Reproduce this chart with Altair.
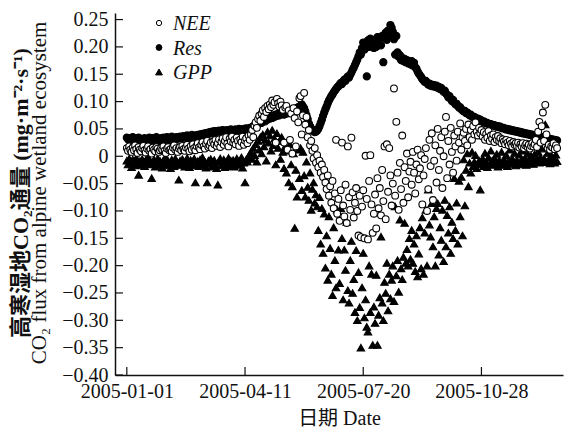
import altair as alt
import pandas as pd

# Daily CO2 flux over an alpine wetland, 2005 (mg·m⁻²·s⁻¹)
SERIES = ["NEE", "Res", "GPP"]

nee = [
    0.015, 0.010, 0.018, 0.012, 0.008, 0.016, 0.011, 0.020, 0.013, 0.006, 0.017, 0.012, 0.009, 0.015, 0.019,
    0.011, 0.007, 0.014, 0.018, 0.010, 0.013, 0.005, 0.016, 0.012, 0.009, 0.017, 0.014, 0.008, 0.011, 0.015,
    0.012, 0.018, 0.010, 0.006, 0.014, 0.017, 0.011, 0.013, 0.009, 0.016, 0.020, 0.012, 0.015, 0.008, 0.014,
    0.017, 0.011, 0.019, 0.013, 0.010, 0.016, 0.021, 0.014, 0.009, 0.018, 0.012, 0.022, 0.015, 0.011, 0.019,
    0.024, 0.016, 0.013, 0.021, 0.026, 0.018, 0.014, 0.023, 0.028, 0.017, 0.020, 0.025, 0.015, 0.027, 0.022,
    0.030, 0.019, 0.024, 0.031, 0.017, 0.026, 0.033, 0.021, 0.028, 0.035, 0.023, 0.018, 0.032, 0.027, 0.036,
    0.025, 0.030, 0.022, 0.034, 0.028, 0.019, 0.031, 0.026, 0.036, 0.021, 0.029, 0.033, 0.024, 0.038, 0.030,
    0.040, 0.048, 0.035, 0.056, 0.062, 0.052, 0.068, 0.074, 0.065, 0.078, 0.084, 0.072, 0.088, 0.081, 0.092,
    0.086, 0.095, 0.090, 0.102, 0.094, 0.099, 0.025, 0.105, 0.097, 0.091, 0.100, 0.093, 0.085, 0.025, 0.089,
    0.092, 0.012, 0.084, 0.030, 0.078, 0.005, 0.088, 0.070, 0.018, 0.082, 0.062, 0.106, 0.110, 0.040, 0.075,
    0.116, 0.058, 0.072, 0.035, 0.048, 0.020, 0.028, 0.010, -0.004, 0.015, -0.012, 0.002, -0.020, -0.008, -0.030,
    -0.015, -0.038, -0.025, -0.048, -0.060, -0.035, -0.072, -0.055, -0.085, -0.045, -0.095, -0.068, 0.030, -0.105, -0.078,
    -0.118, -0.062, 0.025, -0.090, -0.110, -0.052, -0.122, 0.018, -0.075, -0.098, 0.034, -0.066, -0.112, -0.085, -0.058,
    -0.100, -0.145, -0.072, -0.148, -0.092, -0.062, -0.150, 0.001, -0.078, -0.152, -0.045, 0.002, -0.088, -0.140, -0.105,
    -0.070, -0.132, -0.040, -0.095, -0.058, -0.108, -0.025, -0.082, 0.018, -0.115, 0.022, -0.065, 0.015, -0.035, -0.090,
    -0.050, 0.124, -0.072, 0.063, -0.030, -0.098, -0.012, -0.060, 0.038, -0.085, -0.020, -0.045, 0.005, -0.075, -0.028,
    -0.010, -0.052, 0.008, -0.030, -0.068, -0.015, 0.012, -0.042, -0.022, 0.002, -0.088, -0.035, -0.005, 0.015, -0.100,
    -0.060, 0.030, -0.018, 0.042, -0.080, -0.008, 0.020, -0.048, 0.050, -0.025, 0.010, 0.035, -0.058, 0.000, 0.045,
    0.072, -0.040, 0.028, -0.015, 0.052, 0.008, -0.030, 0.038, 0.018, -0.008, 0.045, 0.025, 0.060, 0.012, 0.035,
    0.043, 0.028, 0.050, 0.020, 0.058, 0.035, 0.048, 0.030, 0.055, 0.040, 0.062, 0.045, 0.038, 0.052, 0.042,
    0.048, 0.036, 0.044, 0.030, 0.041, 0.034, 0.046, 0.028, 0.038, 0.032, 0.040, 0.026, 0.035, 0.030, 0.037,
    0.028, 0.033, 0.024, 0.031, 0.027, 0.022, 0.030, 0.025, 0.020, 0.028, 0.023, 0.018, 0.026, 0.021, 0.024,
    0.019, 0.025, 0.016, 0.022, 0.018, 0.024, 0.015, 0.020, 0.023, 0.017, 0.021, 0.014, 0.019, 0.024, 0.018,
    0.022, 0.030, 0.017, 0.045, 0.063, 0.025, 0.055, 0.080, 0.028, 0.094, 0.040, 0.015, 0.021, 0.012, 0.018,
    0.016, 0.024, 0.013, 0.020, 0.015,
]

res = [
    0.034, 0.031, 0.033, 0.029, 0.032, 0.035, 0.030, 0.028, 0.033, 0.031, 0.034, 0.030, 0.032, 0.029, 0.031,
    0.033, 0.030, 0.028, 0.032, 0.034, 0.031, 0.029, 0.033, 0.030, 0.032, 0.035, 0.031, 0.028, 0.030, 0.033,
    0.032, 0.034, 0.030, 0.031, 0.035, 0.033, 0.029, 0.032, 0.036, 0.034, 0.031, 0.033, 0.035, 0.032, 0.034,
    0.036, 0.033, 0.035, 0.037, 0.034, 0.036, 0.038, 0.035, 0.033, 0.037, 0.039, 0.036, 0.034, 0.038, 0.037,
    0.039, 0.036, 0.040, 0.038, 0.041, 0.039, 0.042, 0.040, 0.043, 0.041, 0.044, 0.042, 0.045, 0.043, 0.046,
    0.044, 0.046, 0.045, 0.047, 0.045, 0.046, 0.048, 0.046, 0.047, 0.045, 0.048, 0.046, 0.047, 0.049, 0.047,
    0.048, 0.046, 0.049, 0.047, 0.048, 0.050, 0.048, 0.047, 0.049, 0.050, 0.048, 0.051, 0.049, 0.050, 0.052,
    0.050, 0.053, 0.055, 0.052, 0.057, 0.060, 0.058, 0.062, 0.065, 0.061, 0.066, 0.068, 0.064, 0.070, 0.067,
    0.071, 0.069, 0.073, 0.070, 0.075, 0.072, 0.076, 0.074, 0.078, 0.075, 0.079, 0.077, 0.080, 0.076, 0.081,
    0.078, 0.082, 0.079, 0.084, 0.080, 0.085, 0.083, 0.087, 0.084, 0.088, 0.090, 0.086, 0.092, 0.095, 0.091,
    0.088, 0.082, 0.075, 0.068, 0.060, 0.055, 0.051, 0.048, 0.046, 0.044, 0.045, 0.047, 0.050, 0.055, 0.061,
    0.067, 0.074, 0.080, 0.086, 0.091, 0.097, 0.102, 0.106, 0.110, 0.113, 0.117, 0.120, 0.123, 0.126, 0.128,
    0.131, 0.134, 0.132, 0.137, 0.140, 0.138, 0.143, 0.146, 0.144, 0.149, 0.153, 0.158, 0.162, 0.167, 0.172,
    0.177, 0.183, 0.190, 0.186, 0.198, 0.208, 0.195, 0.204, 0.146, 0.212, 0.200, 0.215, 0.205, 0.210, 0.198,
    0.213, 0.200, 0.218, 0.209, 0.216, 0.203, 0.220, 0.172, 0.217, 0.226, 0.213, 0.230, 0.222, 0.240, 0.235,
    0.228, 0.214, 0.186, 0.220, 0.190, 0.182, 0.185, 0.176, 0.180, 0.174, 0.178, 0.172, 0.176, 0.170, 0.173,
    0.168, 0.174, 0.166, 0.171, 0.163, 0.160, 0.155, 0.151, 0.148, 0.145, 0.141, 0.139, 0.136, 0.138, 0.134,
    0.131, 0.133, 0.129, 0.131, 0.128, 0.130, 0.127, 0.129, 0.125, 0.127, 0.123, 0.125, 0.121, 0.118, 0.120,
    0.115, 0.112, 0.108, 0.110, 0.105, 0.101, 0.103, 0.098, 0.095, 0.096, 0.092, 0.089, 0.090, 0.086, 0.084,
    0.082, 0.083, 0.079, 0.080, 0.077, 0.075, 0.076, 0.073, 0.071, 0.072, 0.070, 0.068, 0.069, 0.066, 0.067,
    0.065, 0.063, 0.064, 0.062, 0.060, 0.061, 0.059, 0.058, 0.059, 0.057, 0.056, 0.057, 0.055, 0.054, 0.055,
    0.053, 0.054, 0.052, 0.051, 0.052, 0.050, 0.049, 0.050, 0.048, 0.049, 0.047, 0.048, 0.046, 0.047, 0.045,
    0.046, 0.044, 0.045, 0.043, 0.044, 0.042, 0.043, 0.041, 0.042, 0.040, 0.041, 0.039, 0.040, 0.038, 0.039,
    0.037, 0.038, 0.036, 0.037, 0.035, 0.036, 0.034, 0.035, 0.033, 0.034, 0.032, 0.033, 0.031, 0.032, 0.030,
    0.031, 0.029, 0.030, 0.028, 0.029,
]

gpp = [
    -0.008, -0.015, -0.004, -0.012, -0.020, -0.006, -0.010, -0.017, -0.003, -0.013, -0.034, -0.009, -0.016, -0.005, -0.011,
    -0.018, -0.007, -0.012, -0.002, -0.015, -0.009, -0.040, -0.014, -0.006, -0.019, -0.010, -0.004, -0.016, -0.008, -0.013,
    -0.021, -0.007, -0.011, -0.003, -0.017, -0.009, -0.014, -0.022, -0.006, -0.012, -0.018, -0.004, -0.010, -0.015, -0.043,
    -0.008, -0.016, -0.005, -0.012, -0.019, -0.009, -0.003, -0.014, -0.020, -0.007, -0.011, -0.017, -0.004, -0.048, -0.013,
    -0.009, -0.018, -0.006, -0.013, -0.002, -0.016, -0.010, -0.021, -0.048, -0.008, -0.014, -0.005, -0.019, -0.011, -0.007,
    -0.015, -0.022, -0.052, -0.009, -0.004, -0.017, -0.012, -0.006, -0.020, -0.010, -0.015, -0.003, -0.018, -0.008, -0.013,
    -0.007, -0.019, -0.011, -0.004, -0.016, -0.009, -0.014, -0.002, -0.021, -0.012, -0.048, -0.006, -0.010, -0.001, 0.004,
    0.008, -0.005, 0.015, 0.002, 0.022, -0.010, 0.028, 0.012, 0.035, 0.005, 0.040, 0.018, 0.030, -0.008, 0.045,
    0.025, 0.038, 0.010, 0.048, 0.020, 0.032, -0.015, 0.042, 0.015, 0.028, -0.005, 0.035, 0.008, -0.022, 0.018,
    -0.030, 0.010, -0.048, 0.022, -0.015, -0.055, 0.005, -0.131, -0.025, -0.074, 0.012, -0.040, 0.015, -0.062, 0.008,
    -0.035, -0.074, -0.010, -0.056, -0.080, -0.030, -0.098, -0.060, -0.048, -0.085, -0.070, -0.092, -0.135, -0.075, -0.160,
    -0.095, -0.177, -0.105, -0.204, -0.145, -0.226, -0.110, -0.168, -0.215, -0.254, -0.130, -0.190, -0.240, -0.098, -0.171,
    -0.232, -0.095, -0.150, -0.262, -0.171, -0.208, -0.120, -0.245, -0.268, -0.190, -0.155, -0.250, -0.225, -0.285, -0.172,
    -0.300, -0.212, -0.276, -0.350, -0.240, -0.177, -0.295, -0.262, -0.312, -0.321, -0.200, -0.285, -0.215, -0.345, -0.275,
    -0.305, -0.217, -0.345, -0.290, -0.258, -0.147, -0.268, -0.300, -0.230, -0.250, -0.195, -0.282, -0.215, -0.260, -0.226,
    -0.200, -0.265, -0.092, -0.218, -0.190, -0.248, -0.116, -0.205, -0.225, -0.184, -0.122, -0.195, -0.170, -0.200, -0.150,
    -0.188, -0.135, -0.195, -0.160, -0.210, -0.145, -0.220, -0.178, -0.130, -0.205, -0.112, -0.215, -0.140, -0.098, -0.200,
    -0.061, -0.125, -0.147, -0.086, -0.165, -0.110, -0.200, -0.095, -0.086, -0.180, -0.130, -0.153, -0.098, -0.192, -0.080,
    -0.165, -0.108, -0.140, -0.092, -0.177, -0.120, -0.150, -0.040, -0.135, -0.085, -0.160, -0.045, -0.110, -0.038, -0.145,
    -0.006, -0.090, -0.025, 0.005, -0.055, -0.012, -0.030, 0.008, -0.018, -0.010, 0.002, -0.022, -0.015, -0.008, -0.061,
    -0.012, -0.004, -0.018, 0.006, -0.010, -0.020, -0.002, -0.014, 0.010, -0.008, -0.016, -0.003, -0.012, 0.004, -0.019,
    -0.007, -0.013, 0.008, -0.016, -0.005, -0.011, 0.002, -0.018, -0.009, 0.012, -0.014, -0.004, -0.010, 0.006, -0.017,
    -0.008, -0.012, 0.003, -0.015, -0.006, 0.010, -0.011, -0.003, -0.016, 0.005, -0.009, -0.013, 0.001, -0.007, -0.014,
    0.004, -0.010, -0.005, 0.008, -0.012, -0.002, 0.014, -0.009, -0.004, 0.058, -0.011, 0.006, -0.007, -0.013, 0.002,
    -0.008, -0.004, -0.012, 0.003, -0.009,
]

x_ticks = ["2005-01-01", "2005-04-11", "2005-07-20", "2005-10-28"]
y_ticks = [-0.40, -0.35, -0.30, -0.25, -0.20, -0.15, -0.10, -0.05, 0.0,
           0.05, 0.10, 0.15, 0.20, 0.25]
x_range = ["2004-12-22", "2006-01-05"]

y_title_cn = "高寒湿地CO₂通量 (mg·m⁻²·s⁻¹)"
y_title_en = "CO₂ flux from alpine wetland ecosystem"
x_title = "日期 Date"

SERIF = "Liberation Serif, Noto Sans CJK SC"
INK = "#111111"
W, H = 448, 362

# marker style per series: shape, fill, size in the plot, size in the key
STYLE = {
    "NEE": ("circle", "white", 46, 28),
    "Res": ("circle", "black", 56, 34),
    "GPP": ("triangle-up", "black", 66, 46),
}


def utc_day(s):
    return alt.DateTime(year=int(s[:4]), month=int(s[5:7]), date=int(s[8:10]), utc=True)


def daily(name, values):
    days = pd.date_range("2005-01-01", periods=len(values), freq="D").strftime("%Y-%m-%d")
    return pd.DataFrame({"date": days, "value": values, "series": name})


# Res first, NEE last so the open circles sit on top
points_df = pd.concat([daily("Res", res), daily("GPP", gpp), daily("NEE", nee)],
                      ignore_index=True)

x_enc = alt.X(
    "date:T",
    scale=alt.Scale(type="utc", domain=[utc_day(d) for d in x_range]),
    axis=alt.Axis(
        values=[utc_day(d) for d in x_ticks],
        labelExpr="utcFormat(datum.value, '%Y-%m-%d')",
        ticks=False, tickSize=0, grid=False, labelOverlap=False,
        domainColor=INK, domainWidth=1.5,
        labelFont=SERIF, labelFontSize=20, labelColor=INK, labelPadding=6,
        title=x_title, titleFont=SERIF, titleFontSize=20, titleFontWeight="normal",
        titleColor=INK, titlePadding=7,
    ),
)

y_enc = alt.Y(
    "value:Q",
    scale=alt.Scale(domain=[-0.40, 0.262], nice=False, zero=False),
    axis=alt.Axis(
        values=y_ticks,
        labelExpr="datum.value == 0 ? '0' : format(datum.value, '.2f')",
        ticks=False, tickSize=0, grid=False,
        domainColor=INK, domainWidth=1.5,
        labelFont=SERIF, labelFontSize=20, labelColor=INK, labelPadding=7,
        title=None,
    ),
)

points = alt.Chart(points_df).mark_point(
    filled=True, opacity=1, stroke="black", strokeWidth=1.1
).encode(
    x=x_enc,
    y=y_enc,
    shape=alt.Shape("series:N", scale=alt.Scale(domain=SERIES, range=[STYLE[s][0] for s in SERIES]), legend=None),
    fill=alt.Fill("series:N", scale=alt.Scale(domain=SERIES, range=[STYLE[s][1] for s in SERIES]), legend=None),
    size=alt.Size("series:N", scale=alt.Scale(domain=SERIES, range=[STYLE[s][2] for s in SERIES]), legend=None),
)

# inward tick marks on both axes
x_tick_marks = alt.Chart(pd.DataFrame({"date": x_ticks})).mark_rule(
    color=INK, strokeWidth=1.2
).encode(x=x_enc, y=alt.value(H), y2=alt.value(H - 8))

y_tick_marks = alt.Chart(pd.DataFrame({"value": y_ticks})).mark_rule(
    color=INK, strokeWidth=1.2
).encode(y=y_enc, x=alt.value(0), x2=alt.value(8))

one_row = points_df.head(1)

# two-line vertical title beside the y axis
y_title_layers = [
    alt.Chart(one_row).mark_text(
        text=y_title_cn, angle=270, align="center", baseline="middle",
        font=SERIF, fontSize=22, fontWeight="bold", color=INK,
    ).encode(x=alt.value(-94), y=alt.value(180)),
    alt.Chart(one_row).mark_text(
        text=y_title_en, angle=270, align="center", baseline="middle",
        font=SERIF, fontSize=21, color=INK,
    ).encode(x=alt.value(-75), y=alt.value(180)),
]

# key in the upper-left corner of the plot
KEY_X, KEY_Y0, KEY_STEP = 44, 10, 24.5
key_layers = []
for i, name in enumerate(SERIES):
    shape, fill, _, key_size = STYLE[name]
    row_y = KEY_Y0 + i * KEY_STEP
    key_layers.append(
        alt.Chart(one_row).mark_point(
            shape=shape, fill=fill, stroke="black", strokeWidth=1.0,
            size=key_size, filled=True, opacity=1,
        ).encode(x=alt.value(KEY_X), y=alt.value(row_y))
    )
    key_layers.append(
        alt.Chart(one_row).mark_text(
            text=name, align="left", baseline="middle", font=SERIF,
            fontSize=20, fontStyle="italic", color=INK,
        ).encode(x=alt.value(KEY_X + 14), y=alt.value(row_y + 1))
    )

chart = alt.layer(
    x_tick_marks, y_tick_marks, points, *y_title_layers, *key_layers
).properties(
    width=W, height=H,
    autosize=alt.AutoSizeParams(type="none"),
    padding={"left": 115, "top": 13, "right": 2, "bottom": 55},
    background="white",
).configure_view(stroke=None)

chart.save("out.html", embed_options={"renderer": "svg", "actions": False})
